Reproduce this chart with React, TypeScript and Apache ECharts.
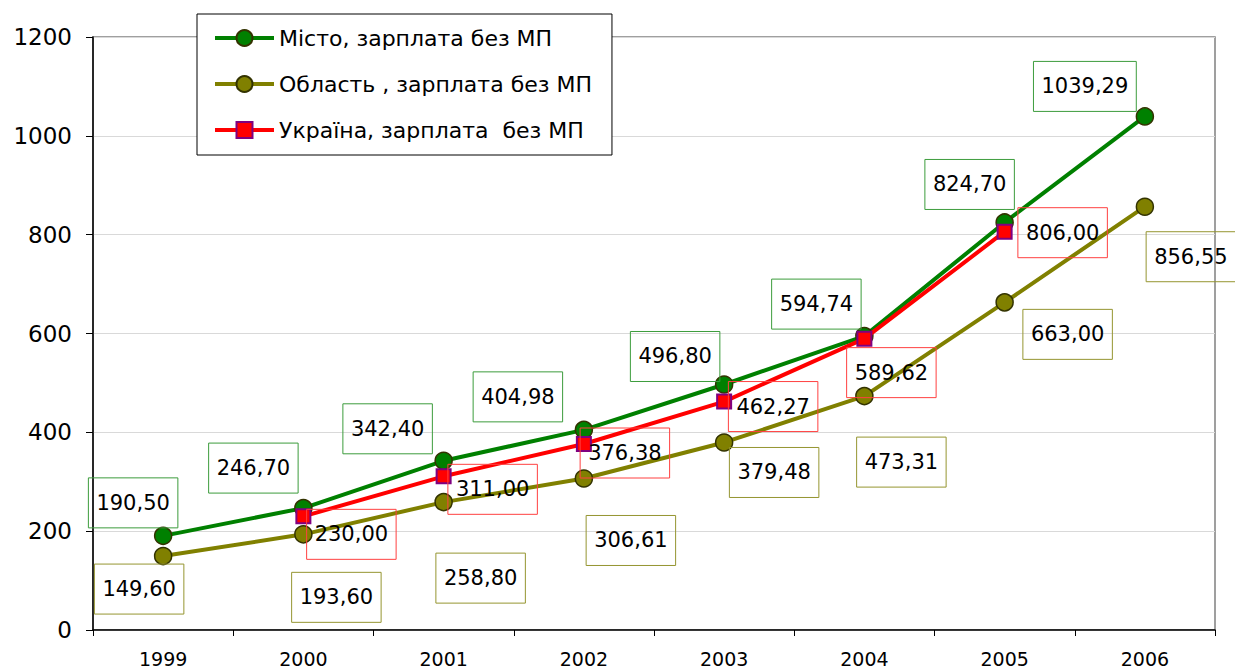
import React, { useEffect, useRef } from "react";
import * as echarts from "echarts";

const years = ["1999", "2000", "2001", "2002", "2003", "2004", "2005", "2006"];
const cityValues = [190.5, 246.7, 342.4, 404.98, 496.8, 594.74, 824.7, 1039.29];
const regionValues = [149.6, 193.6, 258.8, 306.61, 379.48, 473.31, 663.0, 856.55];
const ukraineValues: (number | null)[] = [null, 230.0, 311.0, 376.38, 462.27, 589.62, 806.0, null];

const seriesNames = [
  "Місто, зарплата без МП",
  "Область , зарплата без МП",
  "Україна, зарплата  без МП",
];

// label offsets (style only)
const cityOffsets = [[-30, -33], [-50, -40], [-56, -32], [-66, -33], [-49, -28], [-48, -32], [-35, -38], [-60, -30]];
const regionOffsets = [[-24, 33], [33, 63], [37, 76], [47, 62], [50, 30], [37, 66], [63, 32], [46, 50]];
const ukraineOffsets = [[0, 0], [48, 18], [49, 13], [41, 9], [49, 5], [27, 34], [58, 1], [0, 0]];

const FONT = "DejaVu Sans";

const fmt = (v: number) => v.toFixed(2).replace(".", ",");

function buildData(values: (number | null)[], offsets: number[][], border: string) {
  return values.map((v, i) => {
    if (v === null) return { value: null };
    return {
      value: v,
      label: {
        show: true,
        position: "inside",
        offset: offsets[i],
        formatter: () => fmt(v),
        fontFamily: FONT,
        fontSize: 21,
        lineHeight: 22,
        color: "#000",
        borderColor: border,
        borderWidth: 1,
        padding: [14, 8, 14, 8],
        align: "center",
        verticalAlign: "middle",
      },
    };
  });
}

export default function App() {
  const ref = useRef<HTMLDivElement>(null);
  useEffect(() => {
    if (!ref.current) return;
    const chart = echarts.init(ref.current, null, { renderer: "svg" });
    chart.setOption({
      animation: false,
      backgroundColor: "#fff",
      grid: {
        left: 93,
        right: 20,
        top: 37,
        bottom: 38,
        show: true,
        borderColor: "#808080",
        borderWidth: 1.5,
      },
      legend: {
        orient: "vertical",
        left: 197,
        top: 14,
        padding: [12, 20, 13, 16],
        itemWidth: 59,
        itemHeight: 20,
        itemGap: 22,
        backgroundColor: "#fff",
        borderColor: "#000",
        borderWidth: 1,
        lineStyle: { width: 4 },
        textStyle: { fontFamily: FONT, fontSize: 22, lineHeight: 24, color: "#000" },
        data: seriesNames,
      },
      xAxis: {
        type: "category",
        data: years,
        boundaryGap: true,
        axisLine: { lineStyle: { color: "#000", width: 1.5 } },
        axisTick: { show: true, length: 6, interval: 0, lineStyle: { color: "#000" } },
        axisLabel: { fontFamily: FONT, fontSize: 19, color: "#000", margin: 19, interval: 0 },
        splitLine: { show: false },
      },
      yAxis: {
        type: "value",
        min: 0,
        max: 1200,
        interval: 200,
        axisLine: { show: true, lineStyle: { color: "#000", width: 1.5 } },
        axisTick: { show: true, length: 7, lineStyle: { color: "#000" } },
        axisLabel: {
          fontFamily: FONT,
          fontSize: 23,
          color: "#000",
          margin: 21,
          formatter: (v: number) => String(v),
        },
        splitLine: { show: true, lineStyle: { color: "#d9d9d9", width: 1 } },
      },
      series: [
        {
          name: seriesNames[0],
          type: "line",
          data: buildData(cityValues, cityOffsets, "#3c9c3c"),
          symbol: "circle",
          symbolSize: 17,
          lineStyle: { color: "#008000", width: 4 },
          itemStyle: { color: "#008000", borderColor: "#333300", borderWidth: 1.5 },
          z: 3,
        },
        {
          name: seriesNames[1],
          type: "line",
          data: buildData(regionValues, regionOffsets, "#959530"),
          symbol: "circle",
          symbolSize: 17,
          lineStyle: { color: "#808000", width: 4 },
          itemStyle: { color: "#808000", borderColor: "#333300", borderWidth: 1.5 },
          z: 2,
        },
        {
          name: seriesNames[2],
          type: "line",
          data: buildData(ukraineValues, ukraineOffsets, "#ff4040"),
          symbol: "rect",
          symbolSize: 14,
          connectNulls: false,
          lineStyle: { color: "#ff0000", width: 4 },
          itemStyle: { color: "#ff0000", borderColor: "#800080", borderWidth: 2 },
          z: 4,
        },
      ],
    });
    return () => chart.dispose();
  }, []);
  return (
    <div
      ref={ref}
      style={{ position: "fixed", left: 0, top: 0, width: 1235, height: 668 }}
    />
  );
}
